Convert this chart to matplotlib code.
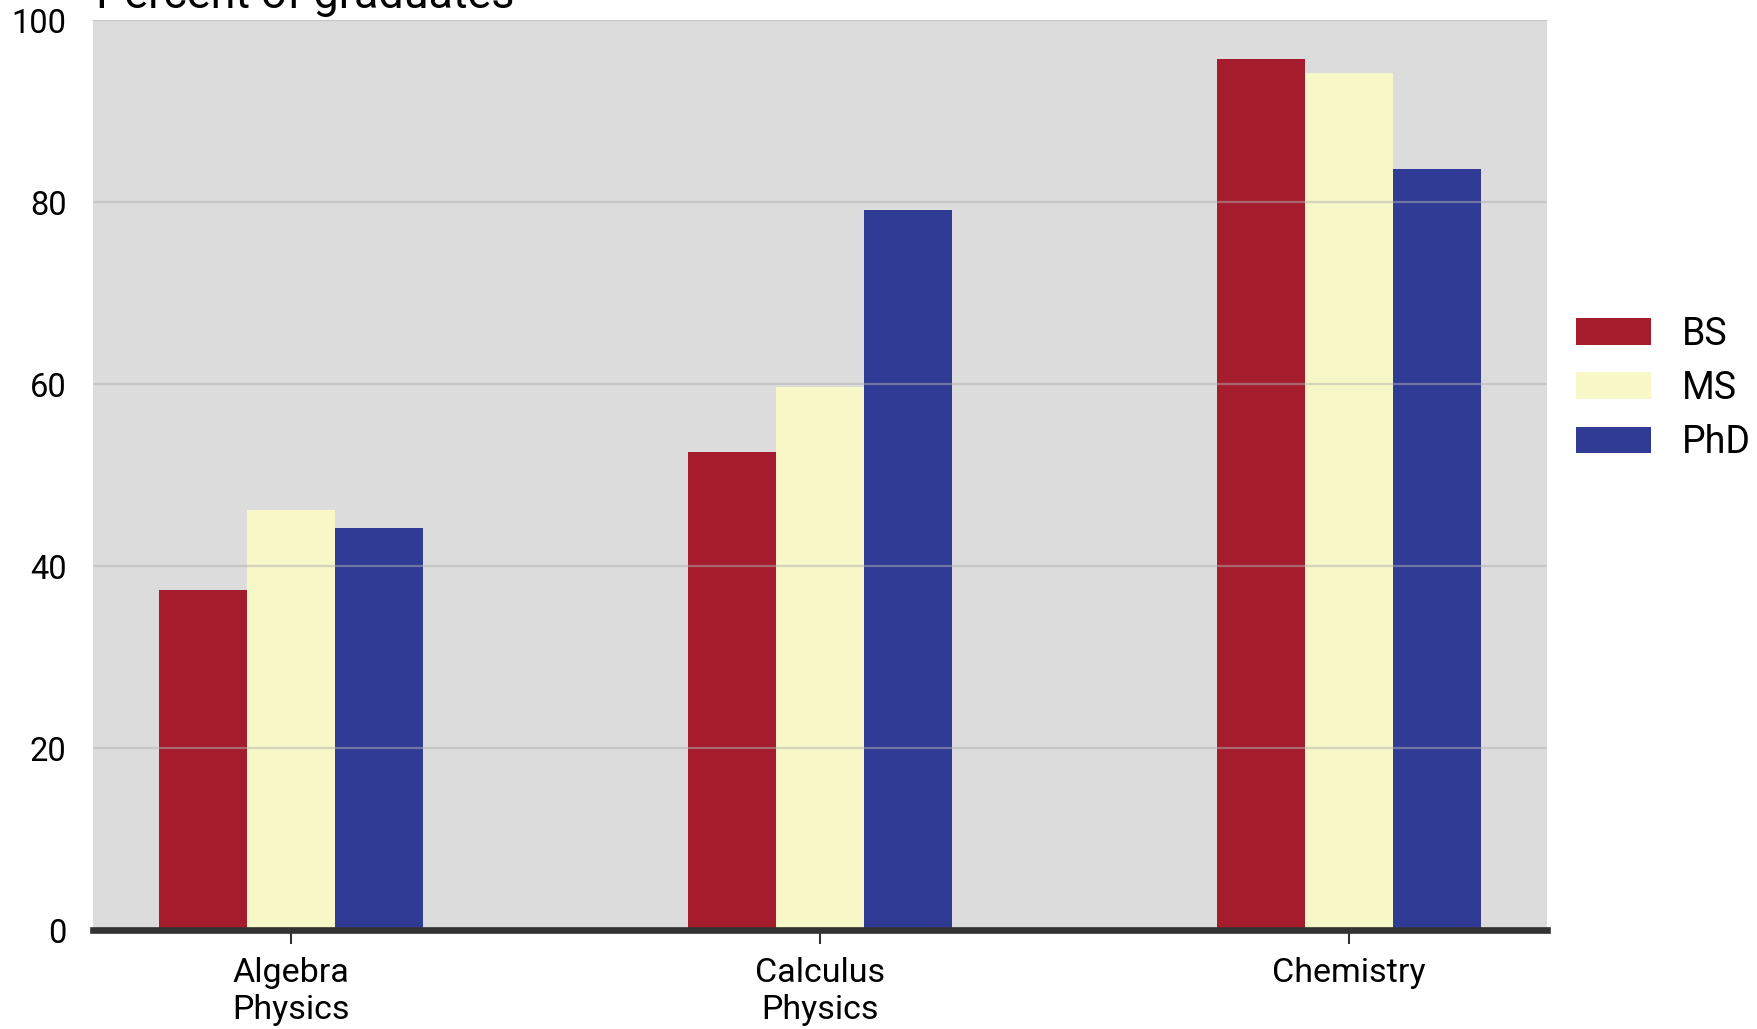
import matplotlib
matplotlib.use('Agg')
import matplotlib.pyplot as plt
import numpy as np

plt.rcParams['font.family'] = ['Roboto', 'DejaVu Sans']

# data
subjects = ["Algebra\nPhysics", "Calculus\nPhysics", "Chemistry"]
degrees = ["BS", "MS", "PhD"]
bs_vals = [37.4, 52.5, 95.7]
ms_vals = [46.2, 59.7, 94.2]
phd_vals = [44.2, 79.1, 83.7]
colors = ["#a51c2c", "#f8f7c8", "#2f3b94"]

fig = plt.figure(figsize=(17.57, 10.29), dpi=100)
ax = fig.add_axes([0.0529, 0.0962, 0.8276, 0.8840])
ax.set_facecolor("#dcdcdc")

x = np.arange(len(subjects))
w = 0.5 / 3
for i, (vals, lab) in enumerate(zip([bs_vals, ms_vals, phd_vals], degrees)):
    ax.bar(x + (i - 1) * w, vals, width=w, color=colors[i], label=lab, zorder=1)

ax.set_xlim(-0.375, 2.375)
ax.set_ylim(0, 100)
ax.set_yticks([0, 20, 40, 60, 80, 100])
ax.set_xticks(x)
ax.set_xticklabels(subjects, fontsize=24.5, linespacing=1.2)

ax.set_axisbelow(False)
ax.yaxis.grid(True, color="#b2b2b2", alpha=0.5, linewidth=1.6)
ax.xaxis.grid(False)

for s in ["left", "right", "top"]:
    ax.spines[s].set_visible(False)
ax.spines["bottom"].set_color("#333333")
ax.spines["bottom"].set_linewidth(4.8)
ax.spines["bottom"].set_zorder(5)

ax.tick_params(axis="y", length=0, pad=19, labelsize=23.5)
ax.tick_params(axis="x", length=10, width=1.5, color="#333333", pad=9.5)

fig.legend(loc="center left", bbox_to_anchor=(0.897, 0.6225), frameon=False,
           fontsize=27, handlelength=2.0, handleheight=0.72, handletextpad=0.82,
           labelspacing=0.46, borderpad=0, borderaxespad=0)

fig.text(95.7 / 1757, 1 - 8 / 1029, "Percent of graduates", fontsize=32.3,
         va="baseline", ha="left")

fig.savefig("out.png", dpi=100)
